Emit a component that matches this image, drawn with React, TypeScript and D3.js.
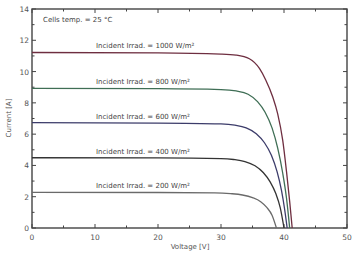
import React, { useEffect, useRef } from 'react';
import * as d3 from 'd3';

// I-V curves, [voltage, current]
const irr1000: [number, number][] = [
  [0, 11.22], [20, 11.2], [30, 11.12], [32.4, 11.05], [34.5, 10.82], [36.1, 10.2],
  [37.1, 9.46], [38.2, 8.39], [39.0, 7.3], [39.8, 5.6], [40.4, 3.6], [40.9, 1.7], [41.3, 0],
];
const irr800: [number, number][] = [
  [0, 8.93], [20, 8.91], [30, 8.85], [32.4, 8.76], [34.3, 8.55], [35.8, 8.08],
  [37.0, 7.4], [38.1, 6.4], [39.0, 5.1], [39.8, 3.5], [40.4, 1.9], [40.9, 0],
];
const irr600: [number, number][] = [
  [0, 6.73], [20, 6.71], [30, 6.66], [32.2, 6.58], [34.0, 6.4], [35.6, 6.03],
  [36.9, 5.45], [38.0, 4.65], [38.9, 3.6], [39.6, 2.4], [40.1, 1.2], [40.5, 0],
];
const irr400: [number, number][] = [
  [0, 4.49], [20, 4.48], [30, 4.44], [32.0, 4.38], [33.8, 4.25], [35.4, 3.98],
  [36.7, 3.55], [37.8, 2.95], [38.7, 2.2], [39.4, 1.3], [40.0, 0],
];
const irr200: [number, number][] = [
  [0, 2.28], [20, 2.27], [29, 2.25], [31.5, 2.2], [33.4, 2.11], [35.0, 1.94],
  [36.3, 1.68], [37.3, 1.3], [38.1, 0.82], [38.8, 0],
];

const series = [irr1000, irr800, irr600, irr400, irr200];
const seriesLabels = [
  'Incident Irrad. = 1000 W/m²',
  'Incident Irrad. = 800 W/m²',
  'Incident Irrad. = 600 W/m²',
  'Incident Irrad. = 400 W/m²',
  'Incident Irrad. = 200 W/m²',
];
const seriesColors = ['#6e2e40', '#3f6e55', '#3c3c6a', '#333333', '#6a6a6a'];

const xTicks = [0, 10, 20, 30, 40, 50];
const yTicks = [0, 2, 4, 6, 8, 10, 12, 14];

const App = () => {
  const svgRef = useRef<SVGSVGElement>(null);

  useEffect(() => {
    const svg = d3.select(svgRef.current);
    svg.selectAll('*').remove();

    const x = d3.scaleLinear().domain([0, 50]).range([32, 347]);
    const y = d3.scaleLinear().domain([0, 14]).range([228, 9]);
    const font = '"DejaVu Sans", sans-serif';

    svg.append('rect').attr('width', 353).attr('height', 253).attr('fill', '#ffffff');

    const frame = svg.append('g').attr('stroke', '#444').attr('stroke-width', 1);

    // minor + major ticks, pointing inward on all four sides
    d3.range(0, 51, 5).forEach(v => {
      const len = v % 10 === 0 ? 4 : 2.5;
      frame.append('line').attr('x1', x(v)).attr('x2', x(v)).attr('y1', y(0)).attr('y2', y(0) - len);
      frame.append('line').attr('x1', x(v)).attr('x2', x(v)).attr('y1', y(14)).attr('y2', y(14) + len);
    });
    d3.range(0, 15, 1).forEach(v => {
      const len = v % 2 === 0 ? 4 : 2.5;
      frame.append('line').attr('y1', y(v)).attr('y2', y(v)).attr('x1', x(0)).attr('x2', x(0) + len);
      frame.append('line').attr('y1', y(v)).attr('y2', y(v)).attr('x1', x(50)).attr('x2', x(50) - len);
    });

    svg.append('rect')
      .attr('x', x(0)).attr('y', y(14))
      .attr('width', x(50) - x(0)).attr('height', y(0) - y(14))
      .attr('fill', 'none').attr('stroke', '#444').attr('stroke-width', 1.4);

    svg.append('g').selectAll('text').data(xTicks).enter().append('text')
      .attr('x', d => x(d)).attr('y', 240)
      .attr('text-anchor', 'middle')
      .attr('font-family', font).attr('font-size', 7.5).attr('fill', '#555')
      .text(d => d);

    svg.append('g').selectAll('text').data(yTicks).enter().append('text')
      .attr('x', 29).attr('y', d => y(d) + 3)
      .attr('text-anchor', 'end')
      .attr('font-family', font).attr('font-size', 7.5).attr('fill', '#555')
      .text(d => d);

    svg.append('text')
      .attr('x', 190).attr('y', 249)
      .attr('text-anchor', 'middle')
      .attr('font-family', font).attr('font-size', 7).attr('fill', '#555')
      .text('Voltage [V]');

    svg.append('text')
      .attr('transform', `translate(11,${118}) rotate(-90)`)
      .attr('text-anchor', 'middle')
      .attr('font-family', font).attr('font-size', 7).attr('fill', '#555')
      .text('Current [A]');

    const line = d3.line<[number, number]>()
      .x(d => x(d[0]))
      .y(d => y(d[1]))
      .curve(d3.curveMonotoneX);

    series.forEach((s, i) => {
      svg.append('path')
        .datum(s)
        .attr('d', line)
        .attr('fill', 'none')
        .attr('stroke', seriesColors[i])
        .attr('stroke-width', 1.3);

      svg.append('text')
        .attr('x', 96).attr('y', y(s[0][1]) - 4)
        .attr('font-family', font).attr('font-size', 7).attr('fill', '#444')
        .text(seriesLabels[i]);
    });

    svg.append('text')
      .attr('x', 43).attr('y', 22)
      .attr('font-family', font).attr('font-size', 7).attr('fill', '#444')
      .text('Cells temp. = 25 °C');
  }, []);

  return (
    <svg ref={svgRef} width={353} height={253}
      style={{ position: 'absolute', left: 0, top: 0 }} />
  );
};

export default App;
